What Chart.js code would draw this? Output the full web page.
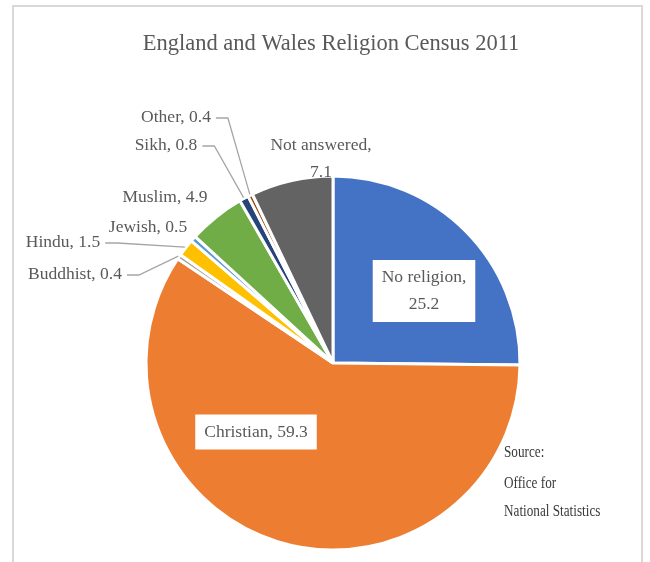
<!DOCTYPE html>
<html>
<head>
<meta charset="utf-8">
<title>England and Wales Religion Census 2011</title>
<script src="https://cdn.jsdelivr.net/npm/chart.js@4.4.0/dist/chart.umd.min.js"></script>
<style>
  html, body { margin: 0; padding: 0; background: #fff; }
  canvas { display: block; }
</style>
</head>
<body>
<canvas id="religionChart" width="650" height="562"></canvas>
<script>
const categories = ["No religion", "Christian", "Buddhist", "Hindu", "Jewish", "Muslim", "Sikh", "Other", "Not answered"];
const shares = [25.2, 59.3, 0.4, 1.5, 0.5, 4.9, 0.8, 0.4, 7.1];
const sliceColors = ["#4472C4", "#ED7D31", "#A5A5A5", "#FFC000", "#5B9BD5", "#70AD47", "#264478", "#9E480E", "#636363"];
const chartTitle = "England and Wales Religion Census 2011";
const sourceLines = ["Source:", "Office for", "National Statistics"];

// where each data label sits, measured from the pie centre
const labelPlacement = [
  { dx: 91, dy: -72, wrap: true, boxed: true },
  { dx: -77, dy: 69, boxed: true },
  { dx: -258, dy: -89, leader: true },
  { dx: -270, dy: -121, leader: true },
  { dx: -185, dy: -136 },
  { dx: -168, dy: -166 },
  { dx: -167, dy: -218, leader: true },
  { dx: -157, dy: -246, leader: true },
  { dx: -12, dy: -204, wrap: true }
];

const serif = '"Liberation Serif", "DejaVu Serif", serif';
const labelFont = "17.5px " + serif;
const lineGap = 27;

const pieDecor = {
  id: "pieDecor",
  beforeDraw(chart) {
    const ctx = chart.ctx;
    ctx.save();
    // chart frame
    ctx.strokeStyle = "#d9d9d9";
    ctx.lineWidth = 2;
    ctx.strokeRect(13, 6, 629, 600);
    // title
    ctx.fillStyle = "#595959";
    ctx.font = "22.5px " + serif;
    ctx.textAlign = "center";
    ctx.textBaseline = "alphabetic";
    ctx.fillText(chartTitle, 331, 50);
    ctx.restore();
  },
  afterDatasetsDraw(chart) {
    const ctx = chart.ctx;
    const arcs = chart.getDatasetMeta(0).data;
    ctx.save();
    ctx.font = labelFont;
    arcs.forEach((arc, i) => {
      const place = labelPlacement[i];
      const cx = arc.x + place.dx;
      const cy = arc.y + place.dy;
      const lines = place.wrap
        ? [categories[i] + ",", String(shares[i])]
        : [categories[i] + ", " + shares[i]];
      const width = Math.max(...lines.map((l) => ctx.measureText(l).width));
      const height = lines.length * lineGap;

      if (place.boxed) {
        ctx.fillStyle = "#ffffff";
        ctx.fillRect(cx - width / 2 - 9, cy - height / 2 - 4, width + 18, height + 8);
      }

      if (place.leader) {
        // leader line: short horizontal run, then to the slice rim
        const mid = (arc.startAngle + arc.endAngle) / 2;
        const r = arc.outerRadius + 1;
        const ex = arc.x + Math.cos(mid) * r;
        const ey = arc.y + Math.sin(mid) * r;
        const sx = cx + width / 2 + 5;
        ctx.strokeStyle = "#a6a6a6";
        ctx.lineWidth = 1.3;
        ctx.beginPath();
        ctx.moveTo(sx, cy + 1);
        ctx.lineTo(sx + 12, cy + 1);
        ctx.lineTo(ex, ey);
        ctx.stroke();
      }

      ctx.fillStyle = "#595959";
      ctx.textAlign = "center";
      ctx.textBaseline = "middle";
      lines.forEach((l, k) => {
        ctx.fillText(l, cx, cy + (k - (lines.length - 1) / 2) * lineGap);
      });
    });

    // source note, set narrow
    ctx.fillStyle = "#3a3a3a";
    ctx.font = "16.5px " + serif;
    ctx.textAlign = "left";
    ctx.textBaseline = "alphabetic";
    const baselines = [457, 488, 516];
    sourceLines.forEach((l, k) => {
      ctx.save();
      ctx.translate(504, baselines[k]);
      ctx.scale(0.8, 1);
      ctx.fillText(l, 0, 0);
      ctx.restore();
    });
    ctx.restore();
  }
};

new Chart(document.getElementById("religionChart"), {
  type: "pie",
  data: {
    labels: categories,
    datasets: [
      {
        data: shares,
        backgroundColor: sliceColors,
        borderColor: "#ffffff",
        borderWidth: 3,
        radius: 187
      }
    ]
  },
  options: {
    responsive: false,
    animation: false,
    layout: {
      padding: { left: 143, right: 127, top: 173, bottom: 9 }
    },
    plugins: {
      legend: { display: false },
      tooltip: { enabled: false }
    }
  },
  plugins: [pieDecor]
});
</script>
</body>
</html>
